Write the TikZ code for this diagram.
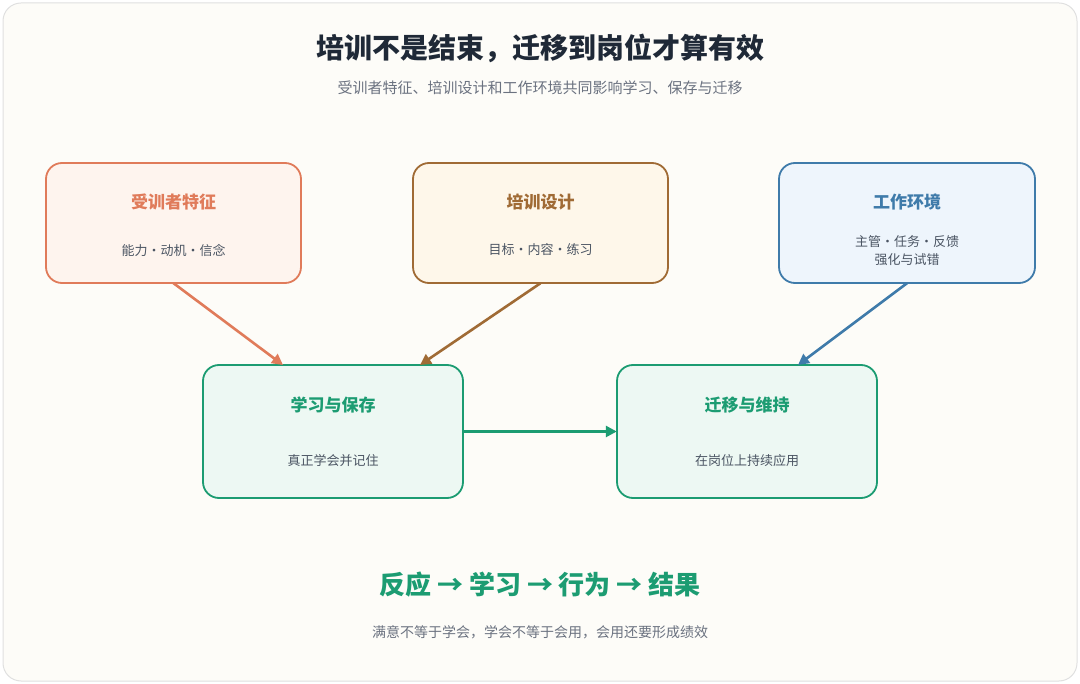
\documentclass[tikz,border=0pt]{standalone}
\usepackage{fontspec}
\setmainfont{Noto Sans CJK SC}
\usetikzlibrary{arrows.meta}
\definecolor{bgc}{HTML}{FDFCF8}
\definecolor{ttl}{HTML}{1F2937}
\definecolor{gry}{HTML}{6B7280}
\definecolor{oB}{HTML}{E07B5A}\definecolor{oF}{HTML}{FEF4EE}
\definecolor{bB}{HTML}{A06B35}\definecolor{bF}{HTML}{FEF7EA}
\definecolor{uB}{HTML}{3F7BAA}\definecolor{uF}{HTML}{EEF5FC}
\definecolor{gB}{HTML}{1C9C72}\definecolor{gF}{HTML}{EDF8F3}
\definecolor{txt}{HTML}{4B5563}
\tikzset{
 box/.style={draw=#1B,fill=#1F,line width=1.8pt,rounded corners=16pt,inner sep=0pt},
 arr/.style={line width=2.6pt,-{Triangle[length=11pt,width=11pt]}},
 hd/.style={font=\fontsize{17}{20}\selectfont\bfseries},
 sb/.style={font=\fontsize{13}{18}\selectfont,text=txt,align=center},
}
\begin{document}
\begin{tikzpicture}[x=1pt,y=-1pt]
\useasboundingbox (0,0) rectangle (1080,684);
\draw[draw=black!12,fill=bgc,rounded corners=18pt,line width=1pt] (3,3) rectangle (1077,681);
\node[font=\fontsize{28}{32}\selectfont\bfseries,text=ttl] (t) at (540,48) {培训不是结束，迁移到岗位才算有效};
\node[font=\fontsize{15}{18}\selectfont,text=gry] (st) at (540,88) {受训者特征、培训设计和工作环境共同影响学习、保存与迁移};
% boxes
\draw[box=o] (46,163) rectangle (301,283); \node (b1) at (173.5,223) [minimum width=255pt,minimum height=120pt]{};
\draw[box=b] (413,163) rectangle (668,283); \node (b2) at (540.5,223) [minimum width=255pt,minimum height=120pt]{};
\draw[box=u] (779,163) rectangle (1035,283); \node (b3) at (907,223) [minimum width=256pt,minimum height=120pt]{};
\draw[box=g] (203,365) rectangle (463,498); \node (b4) at (333,431.5) [minimum width=260pt,minimum height=133pt]{};
\draw[box=g] (617,365) rectangle (877,498); \node (b5) at (747,431.5) [minimum width=260pt,minimum height=133pt]{};
\node[hd,text=oB] (h1) at (173.5,202) {受训者特征};
\node[sb] (s1) at (173.5,250) {能力·动机·信念};
\node[hd,text=bB] (h2) at (540.5,202) {培训设计};
\node[sb] (s2) at (540.5,250) {目标·内容·练习};
\node[hd,text=uB] (h3) at (907,202) {工作环境};
\node[sb] (s3) at (907,251) {主管·任务·反馈\\强化与试错};
\node[hd,text=gB] (h4) at (333,405) {学习与保存};
\node[sb] (s4) at (333,461) {真正学会并记住};
\node[hd,text=gB] (h5) at (747,405) {迁移与维持};
\node[sb] (s5) at (747,461) {在岗位上持续应用};
% arrows
\draw[arr,draw=oB] (b1.south) ++(0,0) coordinate (p1) (p1) -- (283,365);
\draw[arr,draw=bB] (b2.south) -- (420,365);
\draw[arr,draw=uB] (b3.south) -- (798,365);
\draw[arr,draw=gB] (b4.east) -- (b5.west);
\node[font=\fontsize{26}{30}\selectfont\bfseries,text=gB] (f) at (540,585) {反应 → 学习 → 行为 → 结果};
\node[font=\fontsize{14}{18}\selectfont,text=gry] (c) at (540,632) {满意不等于学会，学会不等于会用，会用还要形成绩效};
\end{tikzpicture}
\end{document}
